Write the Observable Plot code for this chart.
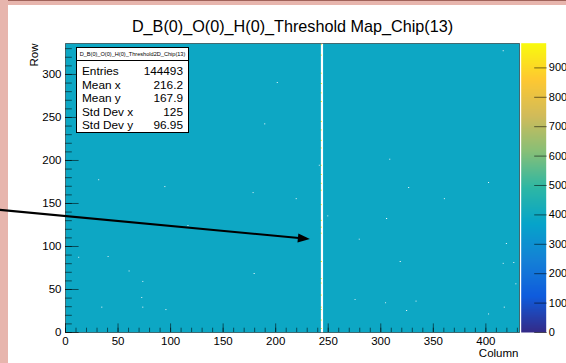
<!DOCTYPE html>
<html><head><meta charset="utf-8">
<script src="https://cdn.jsdelivr.net/npm/d3@7"></script>
<script src="https://cdn.jsdelivr.net/npm/@observablehq/plot@0.6"></script>
<style>
html,body{margin:0;padding:0;background:#fff;}
#wrap{position:relative;width:566px;height:363px;overflow:hidden;font-family:"Liberation Sans",Arial,sans-serif;}
#wrap svg{position:absolute;left:0;top:0;}
#pinkTop{position:absolute;left:0;top:0;width:566px;height:5px;background:#E7B5AD;border-top:1px solid #a0625a;box-sizing:border-box;}
#pinkLeft{position:absolute;left:0;top:0;width:8px;height:363px;background:#E7B5AD;}
#stats{position:absolute;left:76px;top:46.5px;width:113px;height:86px;box-sizing:border-box;border:1px solid #000;background:#fff;font-size:11.8px;color:#000;}
#stats .hdr{position:absolute;left:0;top:0;width:100%;height:12.5px;border-bottom:1px solid #000;font-size:5.6px;line-height:12.5px;text-align:center;white-space:nowrap;}
#stats .row{position:absolute;left:5px;right:5px;height:13px;line-height:13px;}
#stats .row .v{position:absolute;right:0;top:0;}
</style>
</head><body>
<div id="wrap">
  <div id="pinkTop"></div>
  <div id="pinkLeft"></div>
</div>
<script>
// ---- histogram definition ----
const NCOL = 432;             // columns 0..431
const NROW = 336;             // rows 0..335
const baseThreshold = 390;    // uniform threshold level of the map
const zMax = 984;             // top of the colour palette
const deadColumns = [243, 244];
const hotColumn = 243;
const hotRows = [334, 322, 301, 289, 278, 268, 245, 235, 223, 214, 194, 183, 173, 165, 148, 130, 122, 115, 82, 62, 57, 43, 29, 26, 14, 4];
const hotValue = 950;
const emptyCols = [201, 189, 241, 416, 308, 402, 326, 94, 178, 219, 116, 60, 73, 179, 72, 34, 73, 95, 360, 249, 305, 279, 419, 318, 416, 426, 428, 275, 304, 333, 417, 324, 402, 31, 40, 12];
const emptyRows = [290, 242, 194, 327, 201, 174, 168, 169, 162, 155, 124, 71, 59, 68, 40, 29, 29, 26, 155, 135, 132, 108, 103, 82, 80, 81, 56, 38, 34, 36, 29, 25, 21, 177, 88, 87];

// axis ticks
const xMajorTicks = [0, 50, 100, 150, 200, 250, 300, 350, 400];
const xMinorTicks = d3.range(0, 431, 10);
const yMajorTicks = [0, 50, 100, 150, 200, 250, 300];
const yMinorTicks = d3.range(0, 336, 10);
const zTicks = [0, 100, 200, 300, 400, 500, 600, 700, 800, 900];

// stats box
const statsTitle = "D_B(0)_O(0)_H(0)_Threshold2D_Chip(13)";
const statLabels = ["Entries", "Mean x", "Mean y", "Std Dev x", "Std Dev y"];
const statValues = ["144493", "216.2", "167.9", "125", "96.95"];

// texts
const chartTitle = "D_B(0)_O(0)_H(0)_Threshold Map_Chip(13)";
const xTitle = "Column";
const yTitle = "Row";

// annotation arrow (column,row)
const arrowTail = [-62, 142];
const arrowTip = [233, 108];

// ROOT kBird palette
const birdColors = ["#352a87", "#0f5cdd", "#1481d6", "#06a4ca", "#2eb7a4", "#87bf77", "#d1bb59", "#fec832", "#f9fb0e"];
const bird = d3.piecewise(d3.interpolateRgb, birdColors);

// ---- build grid ----
const grid = new Array(NCOL * NROW).fill(baseThreshold);
for (const c of deadColumns) for (let r = 0; r < NROW; r++) grid[r * NCOL + c] = NaN;
hotRows.forEach(r => { grid[r * NCOL + hotColumn] = hotValue; });
emptyCols.forEach((c, i) => { grid[emptyRows[i] * NCOL + c] = NaN; });

const font = '"Liberation Sans", Arial, sans-serif';
const tickStroke = {stroke: "#000", strokeOpacity: 0.55};

function arrowMark(index, scales) {
  const ns = "http://www.w3.org/2000/svg";
  const x0 = scales.x(arrowTail[0]), y0 = scales.y(arrowTail[1]);
  const x1 = scales.x(arrowTip[0]), y1 = scales.y(arrowTip[1]);
  const L = Math.hypot(x1 - x0, y1 - y0), ux = (x1 - x0) / L, uy = (y1 - y0) / L;
  const hl = 12, hw = 4.6;
  const bx = x1 - ux * hl, by = y1 - uy * hl;
  const g = document.createElementNS(ns, "g");
  const line = document.createElementNS(ns, "line");
  line.setAttribute("x1", x0); line.setAttribute("y1", y0);
  line.setAttribute("x2", bx + ux); line.setAttribute("y2", by + uy);
  line.setAttribute("stroke", "#000"); line.setAttribute("stroke-width", 2);
  const head = document.createElementNS(ns, "polygon");
  head.setAttribute("points", `${x1},${y1} ${bx - uy * hw},${by + ux * hw} ${bx + uy * hw},${by - ux * hw}`);
  head.setAttribute("fill", "#000");
  g.appendChild(line); g.appendChild(head);
  return g;
}

const colorScale = {type: "linear", domain: [0, zMax], interpolate: bird};

const main = Plot.plot({
  width: 566, height: 363,
  marginLeft: 65, marginRight: 47, marginTop: 43, marginBottom: 31,
  style: {fontFamily: font, fontSize: "11.5px", color: "#000", background: "transparent", overflow: "visible"},
  x: {domain: [0, NCOL], axis: null},
  y: {domain: [0, NROW], axis: null},
  color: colorScale,
  marks: [
    Plot.raster(grid, {width: NCOL, height: NROW, x1: 0, x2: NCOL, y1: 0, y2: NROW, fill: d => d}),
    Plot.frame({stroke: "#000", strokeOpacity: 0.5}),
    Plot.axisX({ticks: xMinorTicks, tickSize: -4.3, tickFormat: () => "", label: null, ...tickStroke}),
    Plot.axisX({ticks: xMajorTicks, tickSize: -8.6, tickFormat: () => "", label: null, ...tickStroke}),
    Plot.axisX({ticks: xMajorTicks, tickSize: 0, tickPadding: 4.5, label: null, fontSize: 11.5}),
    Plot.axisY({ticks: yMinorTicks, tickSize: -6.8, tickFormat: () => "", label: null, ...tickStroke}),
    Plot.axisY({ticks: yMajorTicks, tickSize: -13.6, tickFormat: () => "", label: null, ...tickStroke}),
    Plot.axisY({ticks: yMajorTicks, tickSize: 0, tickPadding: 4, label: null, fontSize: 11.5}),
    Plot.text([chartTitle], {frameAnchor: "top", dx: 0, dy: -23, fontSize: 16.2, text: d => d}),
    Plot.text([xTitle], {frameAnchor: "bottom-right", dx: -1, dy: 24, textAnchor: "end", fontSize: 11.5, text: d => d}),
    Plot.text([yTitle], {frameAnchor: "top-left", dx: -36, dy: 0, textAnchor: "end", rotate: -90, fontSize: 11.5, text: d => d}),
    arrowMark
  ]
});

const bar = Plot.plot({
  width: 566, height: 363,
  marginLeft: 520.7, marginRight: 20.3, marginTop: 42.7, marginBottom: 31,
  style: {fontFamily: font, fontSize: "11px", color: "#000", background: "transparent", overflow: "visible"},
  x: {domain: [0, 1], axis: null},
  y: {domain: [0, zMax], axis: null},
  color: colorScale,
  marks: [
    Plot.raster({x1: 0, x2: 1, y1: 0, y2: zMax, width: 1, height: 290, fill: (x, y) => y}),
    Plot.axisY({anchor: "right", ticks: zTicks, tickSize: -12.5, tickFormat: () => "", label: null, ...tickStroke}),
    Plot.axisY({anchor: "right", ticks: zTicks, tickSize: 0, tickPadding: 2.6, label: null, fontSize: 11})
  ]
});

const wrap = document.getElementById("wrap");
wrap.appendChild(main);
wrap.appendChild(bar);

const stats = document.createElement("div");
stats.id = "stats";
const hdr = document.createElement("div");
hdr.className = "hdr"; hdr.textContent = statsTitle;
stats.appendChild(hdr);
statLabels.forEach((lab, i) => {
  const row = document.createElement("div");
  row.className = "row";
  row.style.top = (17.5 + i * 13.6) + "px";
  row.textContent = lab;
  const v = document.createElement("span");
  v.className = "v"; v.textContent = statValues[i];
  row.appendChild(v);
  stats.appendChild(row);
});
wrap.appendChild(stats);
</script>
</body></html>
